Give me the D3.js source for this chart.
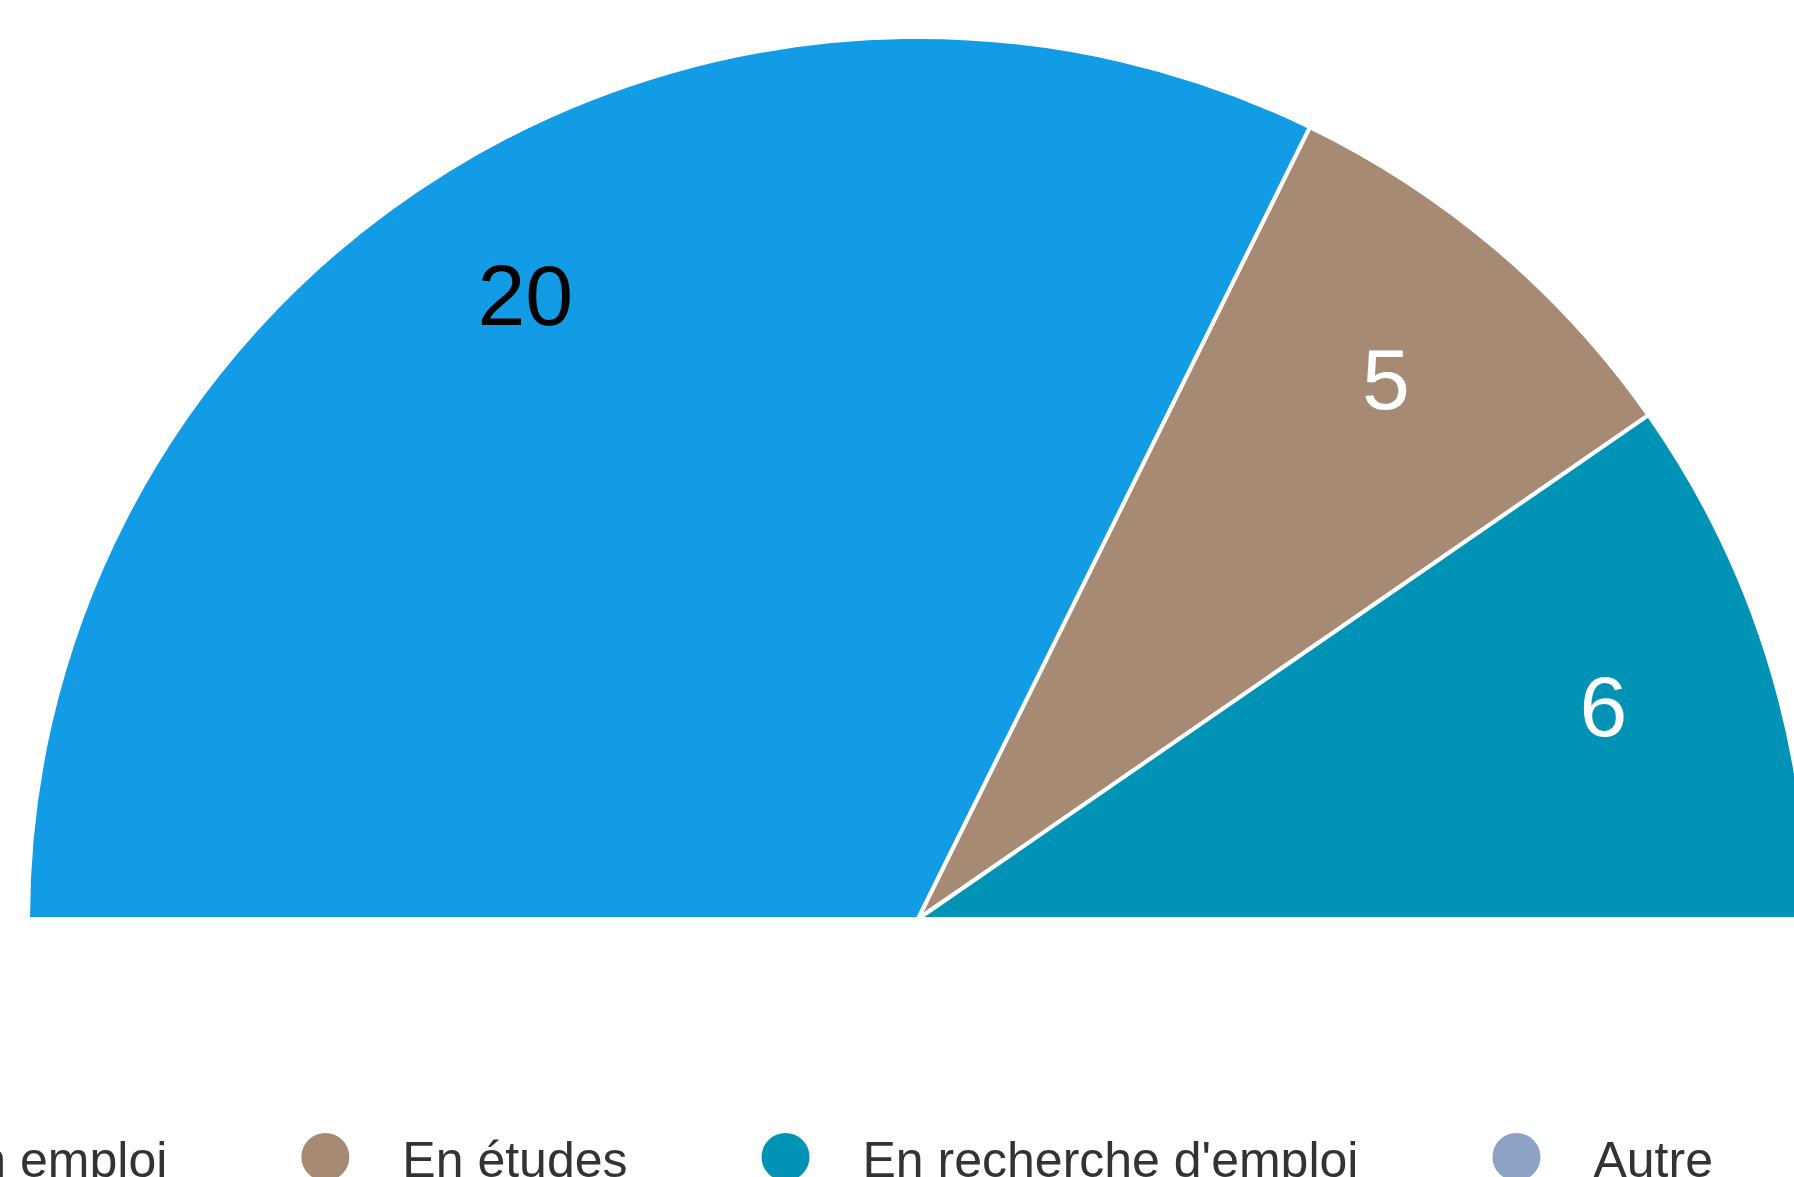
<!DOCTYPE html>
<html>
<head>
<meta charset="utf-8">
<script src="https://cdn.jsdelivr.net/npm/d3@7"></script>
<style>
  html, body { margin: 0; padding: 0; background: #fff; overflow: hidden; }
  svg { display: block; font-family: "Liberation Sans", Arial, sans-serif; }
</style>
</head>
<body>
<svg id="chart" width="1794" height="1177"></svg>
<script>
const categories = ["En emploi", "En études", "En recherche d'emploi", "Autre"];
const values = [20, 5, 6, 0];
const colors = ["#129ce5", "#a68a74", "#0093b5", "#8ea2c6"];
const labelColors = ["#000000", "#ffffff", "#ffffff", "#ffffff"];

const W = 1794, H = 1177;
const cx = 918, cy = 919;
const R = 882;
const sx = 890 / 882;

const svg = d3.select("#chart");

const data = categories.map((c, i) => ({ cat: c, value: values[i], color: colors[i], lc: labelColors[i] }));

const pie = d3.pie().sort(null).value(d => d.value)
  .startAngle(-Math.PI / 2).endAngle(Math.PI / 2);
const arcs = pie(data);

const arc = d3.arc().innerRadius(0).outerRadius(R);

const g = svg.append("g").attr("transform", `translate(${cx},${cy}) scale(${sx},1)`);

g.selectAll("path.slice")
  .data(arcs.filter(d => d.value > 0))
  .join("path")
  .attr("class", "slice")
  .attr("d", arc)
  .attr("fill", d => d.data.color)
  .attr("stroke", "#ffffff")
  .attr("stroke-width", 4)
  .attr("stroke-linejoin", "round");

const lg = svg.append("g").attr("transform", `translate(${cx},${cy})`);
const labels = lg.selectAll("text.lbl")
  .data(arcs.filter(d => d.value > 0))
  .join("text")
  .attr("class", "lbl")
  .attr("text-anchor", "middle")
  .attr("dominant-baseline", "central")
  .attr("font-size", 86)
  .attr("fill", d => d.data.lc)
  .text(d => d.data.value);

labels.each(function(d) {
  const w = this.getComputedTextLength();
  const r = R * 0.78 + w / 2;
  const a = (d.startAngle + d.endAngle) / 2;
  d3.select(this)
    .attr("x", Math.sin(a) * r * sx)
    .attr("y", -Math.cos(a) * r);
});

// Legend
const legend = svg.append("g").attr("class", "legend");
const legendFont = 50;
const circleR = 24;
const circleToText = 77;
const textToNext = 158;
const legendY = 1157;
let x = -132;
data.forEach((d, i) => {
  const item = legend.append("g");
  item.append("circle")
    .attr("cx", x).attr("cy", legendY).attr("r", circleR)
    .attr("fill", d.color);
  const t = item.append("text")
    .attr("x", x + circleToText)
    .attr("y", 1177)
    .attr("font-size", legendFont)
    .attr("fill", "#333333")
    .text(d.cat);
  const w = t.node().getComputedTextLength();
  x = x + circleToText + w + textToNext;
});
</script>
</body>
</html>
